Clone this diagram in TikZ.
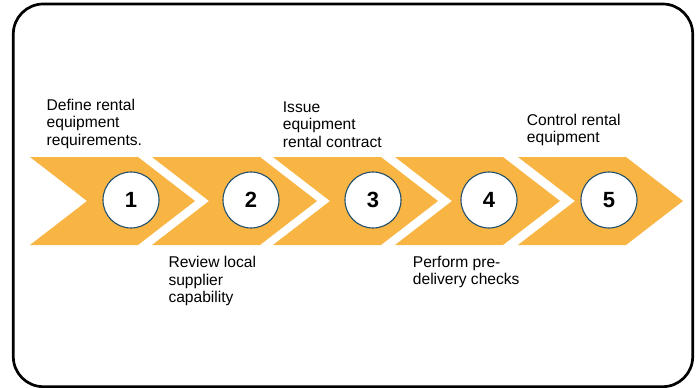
\documentclass[tikz,border=0pt]{standalone}
\usepackage{fontspec}
\setmainfont{Liberation Sans}
\definecolor{chev}{HTML}{F8B543}
\definecolor{ring}{HTML}{1F4E6F}
\tikzset{
  chevshape/.style={fill=chev, draw=none},
  numcircle/.style={circle, draw=ring, line width=1.1pt, fill=white, minimum size=56pt, inner sep=0pt, font=\fontsize{22}{22}\selectfont\bfseries},
  steplabel/.style={anchor=base west, align=left, inner sep=0pt, font=\fontsize{15.6}{17.4}\selectfont},
}
\begin{document}
\begin{tikzpicture}[x=1pt, y=-1pt]
\useasboundingbox (0,0) rectangle (697,388);
\draw[line width=2.7pt, rounded corners=30pt] (13.3,4) rectangle (692.7,386.7);
\foreach \L [count=\i] in {30,152,273,395,518} {
  \fill[chevshape] (\L,157) -- ++(108,0) -- ++(57,44) -- ++(-57,44) -- ++(-108,0) -- ++(57,-44) -- cycle;
}
\node[numcircle] (c1) at (131,200) {1};
\node[numcircle] (c2) at (251,200) {2};
\node[numcircle] (c3) at (373,200) {3};
\node[numcircle] (c4) at (489,200) {4};
\node[numcircle] (c5) at (609,200) {5};
% anchors are at the baseline of the last line
\node[steplabel] (t1) at (46.5,145.3) {Define rental\\equipment\\requirements.};
\node[steplabel] (t3) at (282.7,147.3) {Issue\\equipment\\rental contract};
\node[steplabel] (t5) at (526.7,142.9) {Control rental\\equipment};
\node[steplabel] (t2) at (168.3,302.4) {Review local\\supplier\\capability};
\node[steplabel] (t4) at (412.7,284.5) {Perform pre-\\delivery checks};
\end{tikzpicture}
\end{document}
